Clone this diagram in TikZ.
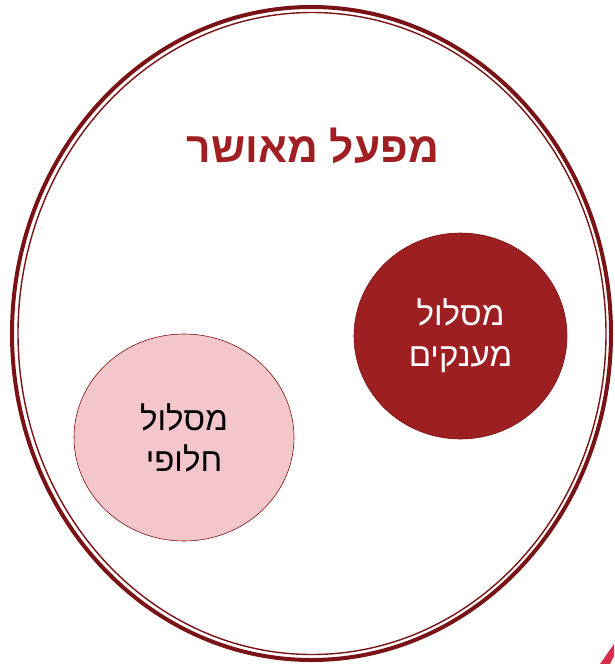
\documentclass[tikz,border=0pt]{standalone}
\usepackage{fontspec}
\usetikzlibrary{shapes.geometric}
\TeXXeTstate=1
\newfontfamily\hebfont[Script=Hebrew]{Liberation Sans}
\definecolor{rimred}{HTML}{7A1315}
\definecolor{darkfill}{HTML}{9E1F21}
\definecolor{pinkfill}{HTML}{F3C6CC}
\definecolor{titlered}{HTML}{A01F22}
\definecolor{cornerred}{HTML}{D62F4B}
\tikzset{
  bubble/.style={ellipse, draw=rimred, line width=0.6pt, inner sep=0pt, align=center,
     font=\hebfont\fontsize{33}{41}\selectfont},
}
\begin{document}
\begin{tikzpicture}[x=1pt,y=-1pt]
\useasboundingbox (0,0) rectangle (614,664);
% outer double ellipse
\draw[rimred, line width=4pt] (311.5,333.5) ellipse [x radius=299.5, y radius=326.5];
\draw[rimred, line width=1.4pt] (312,333.5) ellipse [x radius=294, y radius=321];
% title
\node[font=\hebfont\bfseries\fontsize{42.5}{50}\selectfont, text=titlered, anchor=base] (title) at (313,162) {\beginR מפעל מאושר\endR};
% circles
\node[bubble, fill=darkfill, text=white, minimum width=213, minimum height=206] (grants) at (460.5,336) {\beginR מסלול\endR\\\beginR מענקים\endR};
\node[bubble, fill=pinkfill, text=black, minimum width=220, minimum height=207] (alt) at (184,437.5) {\beginR מסלול\endR\\\beginR חלופי\endR};
% corner fragment
\fill[cornerred] (600,664) -- (610,664) -- (614,656) -- (614,644) -- cycle;
\end{tikzpicture}
\end{document}
